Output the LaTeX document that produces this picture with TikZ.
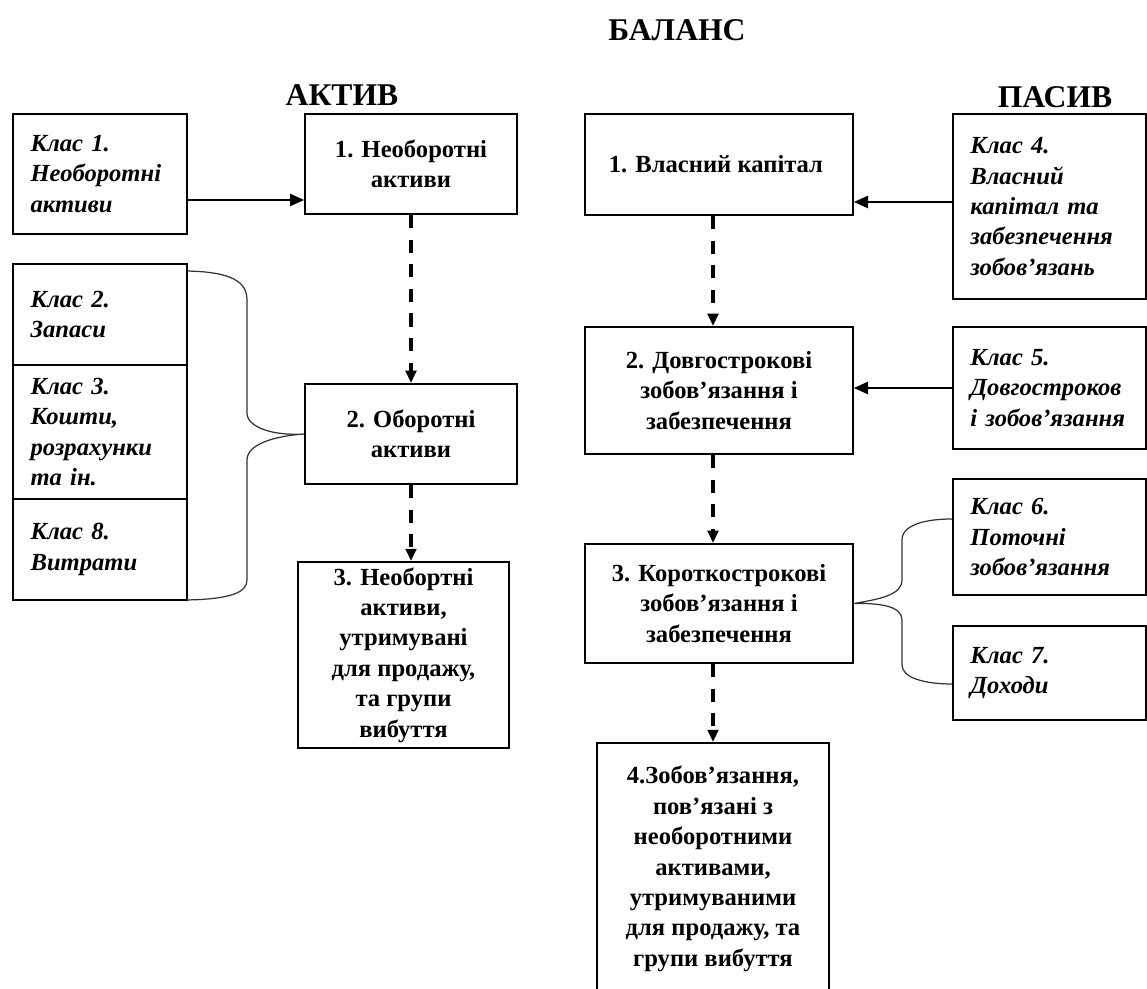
\documentclass[tikz,border=0pt]{standalone}
\usepackage{fontspec}
\setmainfont{Liberation Serif}
\usetikzlibrary{arrows.meta,calc}

\begin{document}
\begin{tikzpicture}[
    x=0.02cm, y=-0.02cm,
    mainbox/.style={
        draw,
        line width=1.1pt,
        align=center,
        font=\fontsize{14}{17.3}\selectfont\bfseries,
        inner sep=2pt
    },
    classbox/.style={
        draw,
        line width=1.1pt,
        align=left,
        font=\fontsize{14}{17.3}\selectfont\bfseries\itshape,
        inner xsep=10pt,
        inner ysep=2pt
    },
    heading/.style={font=\fontsize{18}{22}\selectfont\bfseries},
    relation/.style={-{Triangle[length=8pt,width=7pt]}, line width=1pt},
    flow/.style={-{Triangle[length=7pt,width=6pt]}, line width=2pt, dash pattern=on 7.5pt off 6.5pt},
    bracket/.style={line width=0.7pt, black!80}
]
\useasboundingbox (0,0) rectangle (1147,989);

\node[heading] (balance) at (677,30) {БАЛАНС};
\node[heading] (aktyv) at (342,95) {АКТИВ};
\node[heading] (pasyv) at (1055,97) {ПАСИВ};

% актив
\node[classbox, text width=79pt, minimum height=2.40cm] (k1) at (100,174) {
Клас~1.\\
Необоротні\\
активи
};

\node[classbox, text width=79pt, minimum height=2.02cm] (k2) at (100,314.5) {
Клас~2.\\
Запаси
};

\node[classbox, text width=79pt, minimum height=2.68cm] (k3) at (100,432) {
Клас~3.\\
Кошти,\\
розрахунки\\
та~ін.
};

\node[classbox, text width=79pt, minimum height=2.02cm] (k8) at (100,549.5) {
Клас~8.\\
Витрати
};

\node[mainbox, minimum width=4.24cm, minimum height=2cm] (a1) at (411,164) {
1. Необоротні\\
активи
};

\node[mainbox, minimum width=4.24cm, minimum height=2cm] (a2) at (411,434) {
2. Оборотні\\
активи
};

\node[mainbox, minimum width=4.22cm, minimum height=3.72cm] (a3) at (403.5,655) {
3. Необортні\\
активи,\\
утримувані\\
для продажу,\\
та групи\\
вибуття
};

% пасив
\node[mainbox, minimum width=5.36cm, minimum height=2.02cm] (p1) at (719,164.5) {
1. Власний капітал
};

\node[mainbox, minimum width=5.36cm, minimum height=2.54cm] (p2) at (719,390.5) {
2. Довгострокові\\
зобов’язання і\\
забезпечення
};

\node[mainbox, minimum width=5.36cm, minimum height=2.38cm] (p3) at (719,603.5) {
3. Короткострокові\\
зобов’язання і\\
забезпечення
};

\node[mainbox, minimum width=4.64cm, minimum height=5.04cm] (p4) at (713,869) {
4.Зобов’язання,\\
пов’язані з\\
необоротними\\
активами,\\
утримуваними\\
для продажу, та\\
групи вибуття
};

\node[classbox, text width=90pt, minimum height=3.70cm] (k4) at (1049.5,206.5) {
Клас~4.\\
Власний\\
капітал~та\\
забезпечення\\
зобов’язань
};

\node[classbox, text width=90pt, minimum height=2.44cm] (k5) at (1049.5,388) {
Клас~5.\\
Довгостроков\\
і~зобов’язання
};

\node[classbox, text width=90pt, minimum height=2.32cm] (k6) at (1049.5,537) {
Клас~6.\\
Поточні\\
зобов’язання
};

\node[classbox, text width=90pt, minimum height=1.88cm] (k7) at (1049.5,673) {
Клас~7.\\
Доходи
};

\coordinate (k1out) at ($(k1.east)+(0,26)$);
\coordinate (k4out) at ($(k4.west)+(0,-4.5)$);
\draw[relation] (k1out) -- (k1out -| a1.west);
\draw[relation] (k4out) -- (k4out -| p1.east);
\draw[relation] (k5.west) -- (k5.west -| p2.east);

\draw[flow] (a1.south) -- (a2.north);
\draw[flow] (a2.south) -- (a2.south |- a3.north);
\draw[flow] (p4.north |- p1.south) -- (p4.north |- p2.north);
\draw[flow] (p4.north |- p2.south) -- (p4.north |- p3.north);
\draw[flow] (p4.north |- p3.south) -- (p4.north);

% фігурні дужки
\coordinate (lbtop) at ($(k2.north east)+(0,8)$);
\coordinate (lbbot) at ($(k8.south east)+(0,-1)$);
\draw[bracket] (lbtop) .. controls (232,272) and (247,282) .. (247,300) -- (247,413)
    .. controls (247,428) and (275,436) .. (a2.west)
    .. controls (275,436) and (247,444) .. (247,460) -- (247,580)
    .. controls (247,592) and (232,599) .. (lbbot);

\coordinate (rbtop) at ($(k6.west)+(0,-18)$);
\coordinate (rbbot) at ($(k7.west)+(0,11)$);
\draw[bracket] (rbtop) .. controls (925,519) and (902,525) .. (902,540) -- (902,580)
    .. controls (902,595) and (880,599) .. (p3.east)
    .. controls (880,603) and (902,606) .. (902,620) -- (902,665)
    .. controls (902,678) and (925,684) .. (rbbot);

\end{tikzpicture}
\end{document}
